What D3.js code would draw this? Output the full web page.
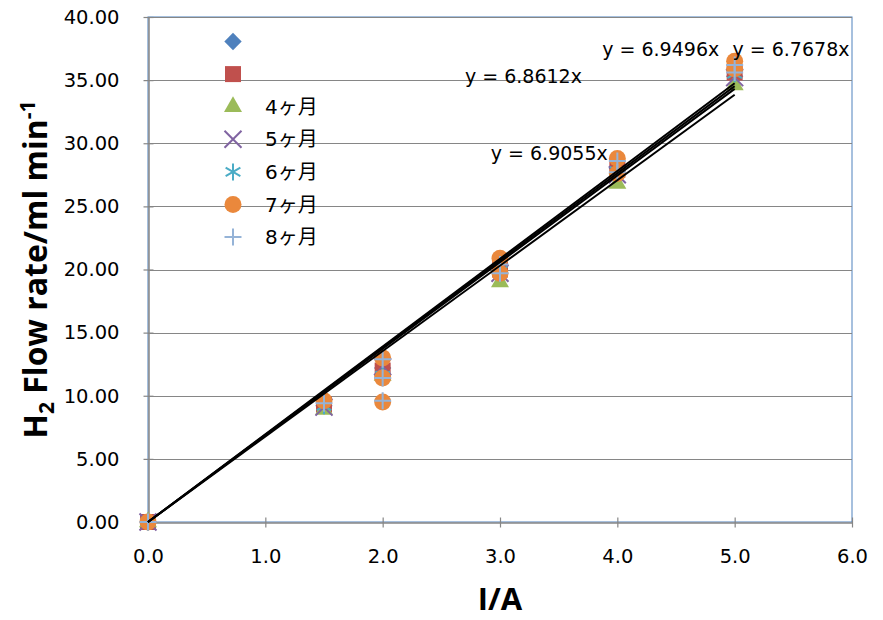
<!DOCTYPE html>
<html lang="ja">
<head>
<meta charset="UTF-8">
<title>H2 Flow rate</title>
<script src="https://cdn.jsdelivr.net/npm/d3@7"></script>
<style>
  body { margin: 0; background: #fff; }
</style>
</head>
<body>
<svg id="chart" width="883" height="620"></svg>
<script>
// ---- data ----
const seriesNames = ["", "", "4ヶ月", "5ヶ月", "6ヶ月", "7ヶ月", "8ヶ月"];
const xSingle = [0, 1.5, 2, 3, 4, 5];
const diamondY = [0, 9.2, 12.2, 20.3, 28.0, 35.3];
const squareY = [0, 9.3, 12.0, 20.0, 27.9, 35.6];
const triangleY = [0, 8.9, 11.6, 19.0, 26.8, 34.6];
const xMarkY = [0, 9.1, 12.3, 19.7, 27.5, 35.2];
const starY = [0, 9.2, 11.6, 19.9, 27.8, 35.5];
const xRepeat = [0, 1.5, 2, 2, 2, 3, 3, 4, 4, 5, 5];
const circleY = [0, 9.6, 13.0, 11.4, 9.5, 20.9, 19.7, 28.8, 27.6, 36.5, 35.9];
const plusY = [0, 9.4, 12.9, 11.4, 9.6, 20.4, 19.7, 28.6, 27.7, 36.2, 35.6];

const xTicks = [0, 1, 2, 3, 4, 5, 6];
const yTicks = [0, 5, 10, 15, 20, 25, 30, 35, 40];

const trendSlopes = [6.9496, 6.7678, 6.8612, 6.9055];
const trendLabelX = [4.37, 5.48, 3.2, 3.42];
const trendLabelY = [37.5, 37.5, 35.3, 29.2];

// ---- layout ----
const svg = d3.select("#chart");
const plotL = 148, plotR = 852, plotT = 17, plotB = 522;

const x = d3.scaleLinear().domain([0, 6]).range([plotL, plotR]);
const y = d3.scaleLinear().domain([0, 40]).range([plotB, plotT]);

const grey = "#868686";

// plot area border
svg.append("rect")
  .attr("x", plotL).attr("y", plotT)
  .attr("width", plotR - plotL).attr("height", plotB - plotT)
  .attr("fill", "none").attr("stroke", "#4f81bd").attr("stroke-width", 1);

// horizontal gridlines
svg.append("g")
  .selectAll("line")
  .data(yTicks.filter(d => d > 0))
  .join("line")
  .attr("x1", plotL).attr("x2", plotR)
  .attr("y1", d => Math.round(y(d)) + 0.5).attr("y2", d => Math.round(y(d)) + 0.5)
  .attr("stroke", grey).attr("stroke-width", 1.2);

// axes
const yAxis = svg.append("g")
  .attr("transform", `translate(${plotL + 0.5},0)`)
  .call(d3.axisLeft(y).tickValues(yTicks).tickFormat(d3.format(".2f"))
    .tickSizeInner(5).tickSizeOuter(0).tickPadding(24));
yAxis.selectAll(".tick line").attr("x2", 5).attr("x1", -5);

const xAxis = svg.append("g")
  .attr("transform", `translate(0,${plotB + 0.5})`)
  .call(d3.axisBottom(x).tickValues(xTicks).tickFormat(d3.format(".1f"))
    .tickSizeInner(5).tickSizeOuter(0).tickPadding(22));
xAxis.selectAll(".tick line").attr("y1", -5).attr("y2", 5);

[yAxis, xAxis].forEach(a => {
  a.select(".domain").attr("stroke", grey).attr("stroke-width", 1.5);
  a.selectAll(".tick line").attr("stroke", grey).attr("stroke-width", 1.2);
  a.selectAll("text").attr("fill", "#000")
    .style("font-family", "'DejaVu Sans', sans-serif").style("font-size", "19.5px");
});

// ---- markers ----
const symbolDefs = [
  { type: d3.symbolSquare, size: 150, fill: "#4f81bd", stroke: "none", rotate: 45 },
  { type: d3.symbolSquare, size: 256, fill: "#c0504d", stroke: "none", rotate: 0 },
  { type: d3.symbolTriangle, size: 140, fill: "#9bbb59", stroke: "none", rotate: 0 },
  { type: d3.symbolX, size: 190, fill: "none", stroke: "#8064a2", rotate: 0 },
  { type: d3.symbolAsterisk, size: 204, fill: "none", stroke: "#4bacc6", rotate: 0 },
  { type: d3.symbolCircle, size: 227, fill: "#ea883c", stroke: "none", rotate: 0 },
  { type: d3.symbolPlus, size: 96, fill: "none", stroke: "#95b3d7", rotate: 0 }
];

const seriesX = [xSingle, xSingle, xSingle, xSingle, xSingle, xRepeat, xRepeat];
const seriesY = [diamondY, squareY, triangleY, xMarkY, starY, circleY, plusY];

function marker(g, def) {
  g.append("path")
    .attr("d", d3.symbol().type(def.type).size(def.size)())
    .attr("fill", def.fill)
    .attr("stroke", def.stroke)
    .attr("stroke-width", 2)
    .attr("transform", def.rotate ? `rotate(${def.rotate})` : null);
}

seriesY.forEach((ys, i) => {
  const pts = ys.map((v, j) => [seriesX[i][j], v]);
  svg.append("g")
    .selectAll("g")
    .data(pts)
    .join("g")
    .attr("transform", d => `translate(${x(d[0])},${y(d[1])})`)
    .each(function () { marker(d3.select(this), symbolDefs[i]); });
});

// ---- trendlines ----
svg.append("g")
  .selectAll("line")
  .data(trendSlopes)
  .join("line")
  .attr("x1", x(0)).attr("y1", y(0))
  .attr("x2", x(5)).attr("y2", d => y(d * 5))
  .attr("stroke", "#000").attr("stroke-width", 2);

svg.append("g")
  .selectAll("text")
  .data(trendSlopes)
  .join("text")
  .attr("x", (d, i) => x(trendLabelX[i]))
  .attr("y", (d, i) => y(trendLabelY[i]))
  .attr("text-anchor", "middle")
  .attr("dominant-baseline", "central")
  .style("font-family", "'DejaVu Sans', sans-serif")
  .style("font-size", "19px")
  .text(d => `y = ${d.toFixed(4)}x`);

// ---- legend ----
const legend = svg.append("g");
seriesNames.forEach((name, i) => {
  const g = legend.append("g").attr("transform", `translate(233,${41.5 + i * 32.6})`);
  marker(g, symbolDefs[i]);
  g.append("text")
    .attr("x", 32).attr("y", 0)
    .attr("dominant-baseline", "central")
    .style("font-family", "'DejaVu Sans', 'Noto Sans CJK JP', sans-serif")
    .style("font-size", "20px")
    .text(name);
});

// ---- axis titles ----
svg.append("text")
  .attr("x", (plotL + plotR) / 2).attr("y", 610)
  .attr("text-anchor", "middle")
  .style("font-family", "'Open Sans', sans-serif")
  .style("font-weight", "bold").style("font-size", "31px")
  .text("I/A");

const yt = svg.append("text")
  .attr("transform", `translate(47,${(plotT + plotB) / 2}) rotate(-90)`)
  .attr("text-anchor", "middle")
  .style("font-family", "'Open Sans', sans-serif")
  .style("font-weight", "bold").style("font-size", "32px");
yt.append("tspan").text("H");
yt.append("tspan").attr("dy", 7).style("font-size", "21px").text("2");
yt.append("tspan").attr("dy", -7).text(" Flow rate/ml min");
yt.append("tspan").attr("dy", -12).style("font-size", "21px").text("-1");
</script>
</body>
</html>
